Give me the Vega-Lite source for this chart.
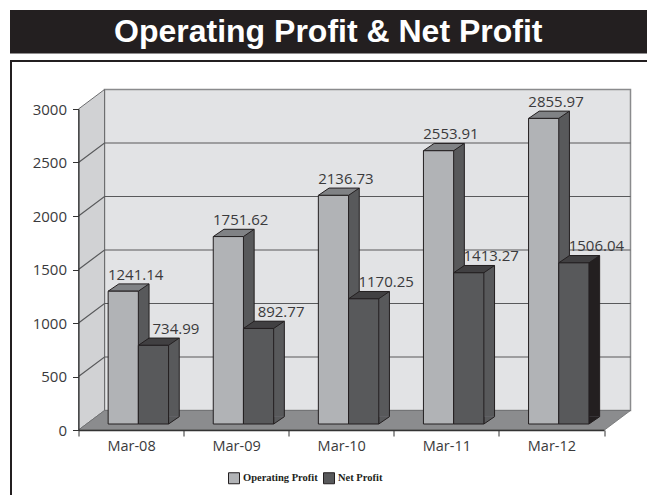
{
"$schema":"https://vega.github.io/schema/vega-lite/v6.json",
"autosize":"none","width":525.5,"height":321,
"padding":{"left":78.5,"top":109,"right":43,"bottom":65},
"background":"white",
"title":{"text":"Operating Profit & Net Profit","font":"Liberation Sans","fontSize":32,"fontWeight":"bold","color":"#ffffff","anchor":"middle","frame":"group","baseline":"alphabetic","offset":-64,"dx":-13},
"config":{"view":{"stroke":null}},
"datasets":{
"bars":[
{"period":"Mar-08","series":"Operating Profit","value":1241.14},
{"period":"Mar-08","series":"Net Profit","value":734.99},
{"period":"Mar-09","series":"Operating Profit","value":1751.62},
{"period":"Mar-09","series":"Net Profit","value":892.77},
{"period":"Mar-10","series":"Operating Profit","value":2136.73},
{"period":"Mar-10","series":"Net Profit","value":1170.25},
{"period":"Mar-11","series":"Operating Profit","value":2553.91},
{"period":"Mar-11","series":"Net Profit","value":1413.27},
{"period":"Mar-12","series":"Operating Profit","value":2855.97},
{"period":"Mar-12","series":"Net Profit","value":1506.04}],
"ticks":[{"tick":500},{"tick":1000},{"tick":1500},{"tick":2000},{"tick":2500}],
"base":[{"tick":0}],
"top":[{"tick":3000}]
},
"layer":[
{"data":{"name":"top"},"mark":{"type":"point","filled":true,"opacity":1,"size":4,"fill":"#231f20","stroke":null,"shape":"M-68.5,-99H568.5V-55.5H-68.5Z"},
 "encoding":{
  "x":{"datum":"Mar-08","type":"nominal","bandPosition":0,"scale":{"type":"band","paddingInner":0,"paddingOuter":0,"domain":["Mar-08","Mar-09","Mar-10","Mar-11","Mar-12"]},
   "axis":{"title":null,"labelAngle":0,"tickBand":"extent","zindex":1,"domainColor":"#333333","tickColor":"#333333","domainWidth":1.5,"tickSize":6,"labelFont":"Open Sans","labelFontSize":14.5,"labelColor":"#3a3a3c","labelPadding":3}},
  "y":{"field":"tick","type":"quantitative","scale":{"domain":[0,3000],"nice":false},
   "axis":{"title":null,"values":[0,500,1000,1500,2000,2500,3000],"format":"d","grid":false,"zindex":1,"domainColor":"#333333","tickColor":"#333333","domainWidth":1.2,"tickSize":6,"labelFont":"Open Sans","labelFontSize":15,"labelColor":"#3a3a3c","labelPadding":6}}}},
{"data":{"name":"top"},"mark":{"type":"point","filled":false,"opacity":1,"size":4,"fill":"transparent","stroke":"#231f20","strokeWidth":2,"shape":"M-67.5,386V-48H568.5"},
 "encoding":{"x":{"datum":"Mar-08","type":"nominal","bandPosition":0},"y":{"field":"tick","type":"quantitative"}}},
{"data":{"name":"base"},"mark":{"type":"point","filled":true,"opacity":1,"size":4,"fill":"#e2e3e5","stroke":"#8a8b8d","strokeWidth":1.5,"shape":"M26,-19.5H552V-340.5H26Z"},
 "encoding":{"x":{"datum":"Mar-08","type":"nominal","bandPosition":0},"y":{"field":"tick","type":"quantitative"}}},
{"data":{"name":"base"},"mark":{"type":"point","filled":true,"opacity":1,"size":4,"fill":"#d1d2d4","stroke":"#6d6e70","strokeWidth":1,"shape":"M0,0L26,-19.5V-340.5L0,-321Z"},
 "encoding":{"x":{"datum":"Mar-08","type":"nominal","bandPosition":0},"y":{"field":"tick","type":"quantitative"}}},
{"data":{"name":"ticks"},"mark":{"type":"point","filled":false,"opacity":1,"size":4,"fill":"transparent","stroke":"#58595b","strokeWidth":1.2,"shape":"M0,0L26,-19.5H552"},
 "encoding":{"x":{"datum":"Mar-08","type":"nominal","bandPosition":0},"y":{"field":"tick","type":"quantitative"}}},
{"data":{"name":"base"},"mark":{"type":"point","filled":true,"opacity":1,"size":4,"fill":"#8b8c8e","stroke":"#6d6e70","strokeWidth":0.8,"shape":"M0,0L26,-19.5H552L526,0Z"},
 "encoding":{"x":{"datum":"Mar-08","type":"nominal","bandPosition":0},"y":{"field":"tick","type":"quantitative"}}},
{"data":{"name":"bars"},
 "encoding":{
  "x":{"field":"period","type":"nominal"},
  "y":{"field":"value","type":"quantitative"}
 },
 "layer":[
  {"transform":[{"filter":"datum.series==='Operating Profit'"}],"mark":{"type":"bar","width":30.2,"xOffset":2.9,"yOffset":-13.3,"y2Offset":-13.3,"stroke":null,"fill":"#58595b"}},
  {"transform":[{"filter":"datum.series==='Net Profit'"}],"mark":{"type":"bar","width":30.2,"xOffset":33.1,"yOffset":-13.3,"y2Offset":-13.3,"stroke":null},
   "encoding":{"fill":{"condition":[{"test":"datum.period==='Mar-12'","value":"#231f20"}],"value":"#58595b"}}},
  {"transform":[{"filter":"datum.series==='Operating Profit'"}],"mark":{"type":"rule","xOffset":18,"yOffset":-13.3,"y2Offset":-13.3,"color":"#231f20","strokeWidth":1},
   "encoding":{"y2":{"datum":0}}},
  {"transform":[{"filter":"datum.series==='Net Profit'"}],"mark":{"type":"rule","xOffset":48.2,"yOffset":-13.3,"y2Offset":-13.3,"color":"#231f20","strokeWidth":1},
   "encoding":{"y2":{"datum":0}}},
  {"transform":[{"filter":"datum.series==='Net Profit'"}],"mark":{"type":"point","filled":true,"opacity":1,"size":4,"xOffset":22.4,"yOffset":-6,"stroke":"#231f20","strokeWidth":1,"shape":"M15.1,-7.3L15.1,0L25.8,-7.3"},
   "encoding":{"y":{"datum":0,"type":"quantitative"},"fill":{"condition":[{"test":"datum.period==='Mar-12'","value":"#231f20"}],"value":"#58595b"}}},
  {"transform":[{"filter":"datum.series==='Operating Profit'"}],"mark":{"type":"point","filled":true,"opacity":1,"size":4,"xOffset":-7.8,"yOffset":-6,"stroke":"#231f20","strokeWidth":1,"fill":"#808285","shape":"M-15.1,0L15.1,0L25.8,-7.3L-4.4,-7.3Z"}},
  {"transform":[{"filter":"datum.series==='Net Profit'"}],"mark":{"type":"point","filled":true,"opacity":1,"size":4,"xOffset":22.4,"yOffset":-6,"stroke":"#231f20","strokeWidth":1,"fill":"#414042","shape":"M-15.1,0L15.1,0L25.8,-7.3L-4.4,-7.3Z"}},
  {"transform":[{"filter":"datum.series==='Operating Profit'"}],"mark":{"type":"bar","width":30.2,"xOffset":-7.8,"yOffset":-6,"y2Offset":-6,"stroke":"#231f20","strokeWidth":1},
   "encoding":{"fill":{"field":"series","type":"nominal","scale":{"domain":["Operating Profit","Net Profit"],"range":["#b1b3b6","#58595b"]},
    "legend":{"orient":"none","direction":"horizontal","legendX":149.5,"legendY":363,"title":null,"symbolType":"square","symbolSize":121,"symbolStrokeColor":"#333333","symbolStrokeWidth":1,"labelFont":"Liberation Serif","labelFontWeight":"bold","labelFontSize":10.5,"labelColor":"#231f20","labelOffset":3,"columnPadding":3,"padding":0}}}},
  {"transform":[{"filter":"datum.series==='Net Profit'"}],"mark":{"type":"bar","width":30.2,"xOffset":22.4,"yOffset":-6,"y2Offset":-6,"stroke":"#231f20","strokeWidth":1},
   "encoding":{"fill":{"field":"series","type":"nominal"}}},
  {"transform":[{"filter":"datum.series==='Operating Profit'"}],
   "mark":{"type":"text","font":"Open Sans","fontSize":15,"color":"#3a3a3c","align":"center","baseline":"middle","xOffset":4.6,"yOffset":-22.5},
   "encoding":{"text":{"field":"value","type":"quantitative","format":".2f"}}},
  {"transform":[{"filter":"datum.series==='Net Profit'"}],
   "mark":{"type":"text","font":"Open Sans","fontSize":15,"color":"#3a3a3c","align":"center","baseline":"middle","xOffset":44.9,"yOffset":-22.5},
   "encoding":{"text":{"field":"value","type":"quantitative","format":".2f"}}}
 ]}
]
}
